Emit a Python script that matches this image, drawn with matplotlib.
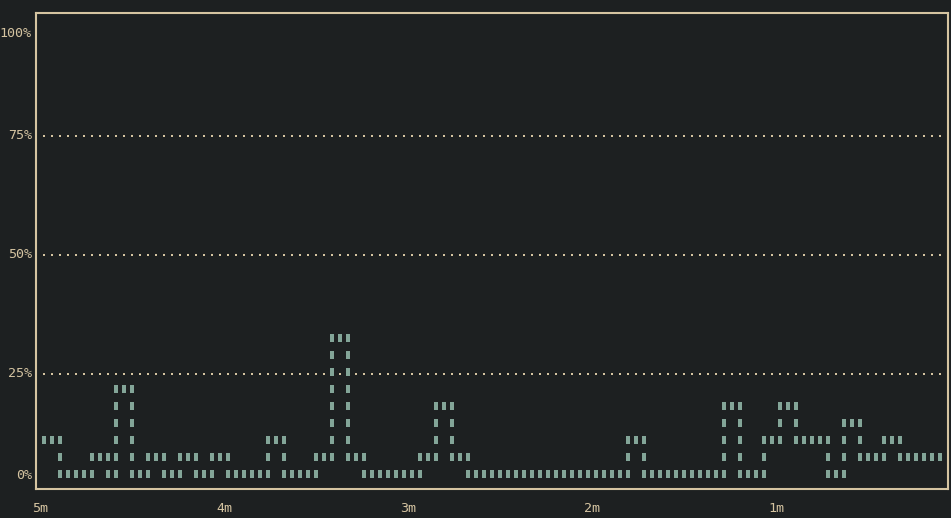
import matplotlib
matplotlib.use("Agg")
import matplotlib.pyplot as plt
from matplotlib.transforms import ScaledTranslation

# CPU usage (%) sampled per column, oldest -> newest
cpu = [8, 8, 8, 0, 0, 0, 0, 4, 4, 0, 19, 19, 0, 0, 4, 4, 0, 0, 4, 4,
       0, 0, 4, 4, 0, 0, 0, 0, 0, 8, 8, 0, 0, 0, 0, 4, 4, 31, 31, 4,
       4, 0, 0, 0, 0, 0, 0, 0, 4, 4, 15, 15, 4, 4, 0, 0, 0, 0, 0, 0,
       0, 0, 0, 0, 0, 0, 0, 0, 0, 0, 0, 0, 0, 0, 8, 8, 0, 0, 0, 0,
       0, 0, 0, 0, 0, 0, 15, 15, 0, 0, 0, 8, 8, 15, 15, 8, 8, 8, 8, 0,
       0, 12, 12, 4, 4, 4, 8, 8, 4, 4, 4, 4, 4]
y_ticks = [0, 25, 50, 75, 100]
y_labels = ["0%", "25%", "50%", "75%", "100%"]
grid_levels = [25, 50, 75]
x_labels = ["5m", "4m", "3m", "2m", "1m"]

ROWS = 26  # terminal rows spanning 0..100 %
BG = "#1d2021"
FG = "#d5c4a1"
LINE = "#83a598"

def to_row(p):
    return round(p * ROWS / 100)

def row_y(r):
    return r * 100 / ROWS

W, H = 951, 518
fig = plt.figure(figsize=(W / 100, H / 100), dpi=100, facecolor=BG)
ax = fig.add_axes([36 / W, (H - 489) / H, (948 - 36) / W, (489 - 13) / H])
ax.set_facecolor(BG)

n = len(cpu)
ax.set_xlim(-1, n)
px_per_pct = (ROWS * 17) / 100.0
ax.set_ylim(-(489 - 474) / px_per_pct, (474 - 13) / px_per_pct)

# dotted grid lines (one dot per column)
dot_tr = ax.transData + ScaledTranslation(0, -2 / 100, fig.dpi_scale_trans)
for g in grid_levels:
    yy = row_y(to_row(g))
    ax.plot(list(range(n)), [yy] * n, linestyle="none", marker="s",
            markersize=2.0, color=FG, markeredgewidth=0, transform=dot_tr)

# line rendered as terminal cells
rows = [to_row(p) for p in cpu]
xs, ys = [], []
for c in range(n):
    a = rows[c]
    b = rows[c + 1] if c + 1 < n else rows[c]
    for r in range(min(a, b), max(a, b) + 1):
        xs.append(c)
        ys.append(row_y(r))
cell = [(-0.25, -0.5), (0.25, -0.5), (0.25, 0.5), (-0.25, 0.5), (-0.25, -0.5)]
ax.plot(xs, ys, linestyle="none", marker=cell, markersize=5.8,
        markeredgewidth=0, color=LINE)

# axes styling
for s in ax.spines.values():
    s.set_color(FG)
    s.set_linewidth(1.5)

ax.set_yticks([row_y(to_row(t)) for t in y_ticks])
ax.set_yticklabels(y_labels)
step = 23
ax.set_xticks([-0.5 + step * i for i in range(len(x_labels))])
ax.set_xticklabels(x_labels)
ax.tick_params(axis="y", length=0, pad=3, labelsize=9.6, labelcolor=FG)
ax.tick_params(axis="x", length=0, pad=9, labelsize=9.6, labelcolor=FG)
for lab in ax.get_xticklabels() + ax.get_yticklabels():
    lab.set_fontfamily("DejaVu Sans Mono")

fig.savefig("out.png", dpi=100, facecolor=BG)
